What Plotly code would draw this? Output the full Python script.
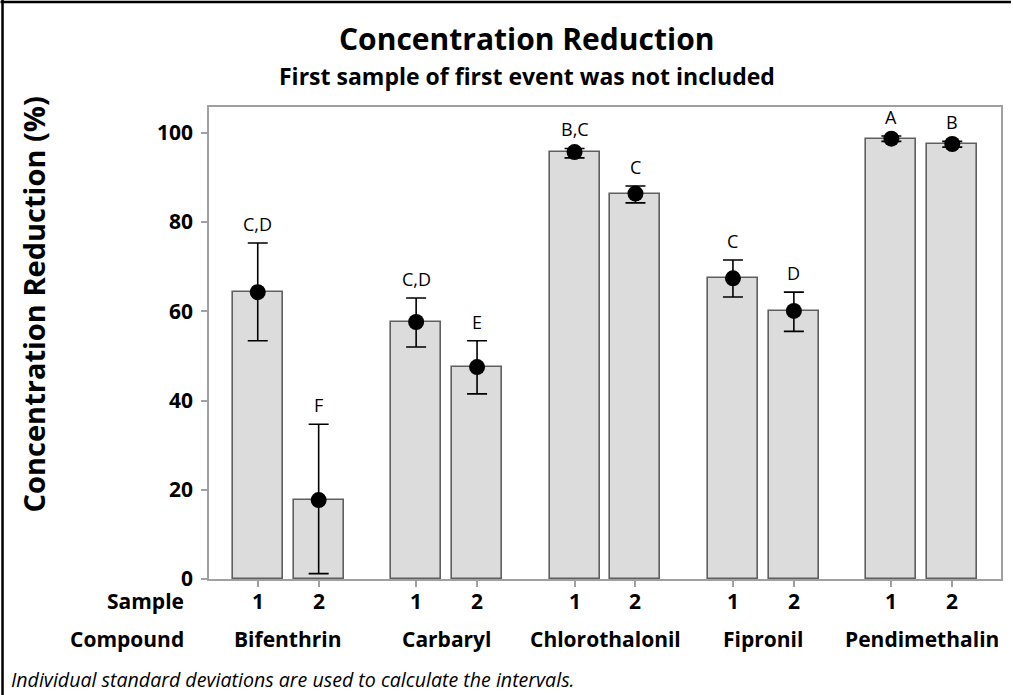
import plotly.graph_objects as go

# Data
compounds = ["Bifenthrin", "Carbaryl", "Chlorothalonil", "Fipronil", "Pendimethalin"]
samples = ["1", "2"]
mean_reduction = [64.3, 17.7, 57.6, 47.5, 95.7, 86.4, 67.4, 60.1, 98.7, 97.5]
ci_upper = [75.3, 34.7, 63.0, 53.4, 96.5, 88.1, 71.5, 64.3, 99.3, 98.1]
ci_lower = [53.4, 1.2, 52.0, 41.5, 94.4, 84.3, 63.2, 55.5, 98.1, 96.8]
groups = ["C,D", "F", "C,D", "E", "B,C", "C", "C", "D", "A", "B"]
y_ticks = [0, 20, 40, 60, 80, 100]

# Layout geometry (pixels)
W, H = 1013, 695
ML, MR, MT, MB = 209, 10, 107, 116
GROUP_STEP = 2.6
FONT = "Open Sans"


def px_x(x):
    return (x - ML) / (W - ML - MR)


def px_y(y):
    return (H - MB - y) / (H - MT - MB)


xpos = [g * GROUP_STEP + s for g in range(len(compounds)) for s in range(len(samples))]
sample_labels = [s for _ in compounds for s in samples]
err_plus = [u - m for u, m in zip(ci_upper, mean_reduction)]
err_minus = [m - l for m, l in zip(mean_reduction, ci_lower)]

fig = go.Figure()
fig.add_trace(go.Bar(
    x=xpos, y=mean_reduction, width=0.82,
    marker=dict(color="#dcdcdc", line=dict(color="#5f5f5f", width=1.6)),
    hoverinfo="skip", showlegend=False,
))
fig.add_trace(go.Scatter(
    x=xpos, y=mean_reduction, mode="markers",
    marker=dict(color="black", size=16),
    error_y=dict(type="data", symmetric=False, array=err_plus, arrayminus=err_minus,
                 color="black", thickness=1.6, width=10),
    showlegend=False,
))

annotations = []
# grouping letters above the intervals
for x, top, g in zip(xpos, ci_upper, groups):
    annotations.append(dict(x=x, y=top, xref="x", yref="y", text=g, showarrow=False,
                            yanchor="bottom", yshift=5,
                            font=dict(family=FONT, size=18, color="black")))
# sample labels
for x, s in zip(xpos, sample_labels):
    annotations.append(dict(x=x, y=px_y(601), xref="x", yref="paper", text=s, showarrow=False,
                            yanchor="middle",
                            font=dict(family=FONT, size=21, color="black", weight="bold")))
# compound labels
for gi, c in enumerate(compounds):
    annotations.append(dict(x=gi * GROUP_STEP + 0.5, y=px_y(639), xref="x", yref="paper", text=c,
                            showarrow=False, yanchor="middle",
                            font=dict(family=FONT, size=21, color="black", weight="bold")))
# row headers
for label, yy in [("Sample", 601), ("Compound", 639)]:
    annotations.append(dict(x=px_x(186), y=px_y(yy), xref="paper", yref="paper", text=label,
                            showarrow=False, xanchor="right", yanchor="middle",
                            font=dict(family=FONT, size=21, color="black", weight="bold")))
# titles
annotations.append(dict(x=px_x(527), y=px_y(38), xref="paper", yref="paper",
                        text="Concentration Reduction", showarrow=False,
                        xanchor="center", yanchor="middle",
                        font=dict(family=FONT, size=30, color="black", weight="bold")))
annotations.append(dict(x=px_x(528), y=px_y(76), xref="paper", yref="paper",
                        text="First sample of first event was not included", showarrow=False,
                        xanchor="center", yanchor="middle",
                        font=dict(family=FONT, size=23, color="black", weight="bold")))
# y-axis title
annotations.append(dict(x=px_x(33), y=px_y(304), xref="paper", yref="paper",
                        text="Concentration Reduction (%)", showarrow=False, textangle=-90,
                        xanchor="center", yanchor="middle",
                        font=dict(family=FONT, size=29, color="black", weight="bold")))
# footnote
annotations.append(dict(x=px_x(8), y=px_y(679), xref="paper", yref="paper",
                        text="<i>Individual standard deviations are used to calculate the intervals.</i>",
                        showarrow=False, xanchor="left", yanchor="middle",
                        font=dict(family=FONT, size=19.6, color="black")))

shapes = [
    # outer frame edges
    dict(type="line", xref="paper", yref="paper", x0=px_x(0), x1=px_x(W), y0=px_y(2), y1=px_y(2),
         line=dict(color="black", width=2.5)),
    dict(type="line", xref="paper", yref="paper", x0=px_x(2), x1=px_x(2), y0=px_y(0), y1=px_y(H),
         line=dict(color="black", width=2.5)),
]

fig.update_layout(
    width=W, height=H,
    margin=dict(l=ML, r=MR, t=MT, b=MB, pad=0),
    paper_bgcolor="white", plot_bgcolor="white",
    bargap=0, showlegend=False,
    annotations=annotations, shapes=shapes,
    xaxis=dict(range=[-0.8, (len(compounds) - 1) * GROUP_STEP + 1.8], tickvals=xpos,
               ticktext=["" for _ in xpos], ticks="outside", ticklen=6, tickcolor="#a0a0a0",
               tickwidth=1.5, showline=True, linecolor="#a0a0a0", linewidth=1.5, mirror=True,
               showgrid=False, zeroline=False, fixedrange=True),
    yaxis=dict(range=[0, 105.8], tickvals=y_ticks, ticks="outside", ticklen=6,
               tickcolor="#a0a0a0", tickwidth=1.5, showline=True, linecolor="#a0a0a0",
               linewidth=1.5, mirror=True, showgrid=False, zeroline=False,
               tickfont=dict(family=FONT, size=21, color="black", weight="bold"),
               ticklabelstandoff=4),
)

fig.write_html("out.html")
